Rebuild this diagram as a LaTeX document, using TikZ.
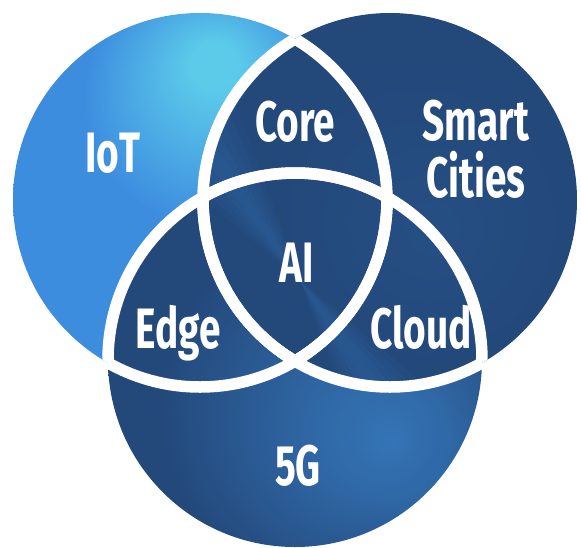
\documentclass[tikz,border=0pt]{standalone}
\usepackage{fontspec}
\setmainfont{Fira Sans}[FakeStretch=0.68]
\definecolor{cy}{HTML}{5CCBEA}
\definecolor{bl}{HTML}{3D8DDF}
\definecolor{nv}{HTML}{23487A}
\definecolor{nvl}{HTML}{3474B6}
\pgfdeclareradialshading{iotshade}{\pgfpoint{2bp}{19bp}}{color(0bp)=(cy); color(3bp)=(cy); color(17bp)=(bl); color(60bp)=(bl)}
\pgfdeclareradialshading{citshade}{\pgfpoint{6bp}{-4bp}}{color(0bp)=(nv!85!nvl); color(22bp)=(nv); color(60bp)=(nv)}
\pgfdeclareradialshading{fivshade}{\pgfpoint{13bp}{-11bp}}{color(0bp)=(nvl); color(8bp)=(nvl!75!nv); color(26bp)=(nv); color(60bp)=(nv)}
\tikzset{
  ring/.style={draw=white, line width=11.5pt},
  lab/.style={text=white, font=\fontsize{57}{57}\selectfont\bfseries, inner sep=0pt, anchor=base, align=center},
  streak/.style={fill=nvl, opacity=0.09}
}
\newcommand{\streaks}{%
  \foreach \w in {3,6,9,12,15}{%
    \fill[streak, shift={(cC)}] (0,0) -- (55-\w:450) -- (55+\w:450) -- cycle;
    \fill[streak, shift={(cC)}] (0,0) -- (235-\w:450) -- (235+\w:450) -- cycle;
  }}
\begin{document}
\begin{tikzpicture}[x=1pt,y=-1pt]
\useasboundingbox (0,0) rectangle (581,547);
\coordinate (cL) at (200,200);
\coordinate (cR) at (390,200);
\coordinate (cB) at (295,360);
\coordinate (cC) at (300,280);
\def\R{187}
% fills and brushed streaks
\shade[shading=iotshade] (cL) circle[radius=\R];
\shade[shading=fivshade] (cB) circle[radius=\R];
\begin{scope}
  \clip (cB) circle[radius=\R];
  \streaks
\end{scope}
\shade[shading=citshade] (cR) circle[radius=\R];
\begin{scope}
  \clip (cR) circle[radius=\R];
  \streaks
\end{scope}
% white outlines inside other circles
\begin{scope}\clip (cR) circle[radius=\R]; \draw[ring] (cL) circle[radius=\R]; \end{scope}
\begin{scope}\clip (cB) circle[radius=\R]; \draw[ring] (cL) circle[radius=\R]; \end{scope}
\begin{scope}\clip (cL) circle[radius=\R]; \draw[ring] (cR) circle[radius=\R]; \end{scope}
\begin{scope}\clip (cB) circle[radius=\R]; \draw[ring] (cR) circle[radius=\R]; \end{scope}
\begin{scope}\clip (cL) circle[radius=\R]; \draw[ring] (cB) circle[radius=\R]; \end{scope}
\begin{scope}\clip (cR) circle[radius=\R]; \draw[ring] (cB) circle[radius=\R]; \end{scope}
% labels
\node[lab] (iot) at (113,172) {IoT};
\node[lab] (core) at (295,141) {Core};
\node[lab] (smart) at (476,197) {Smart\\Cities};
\node[lab] (ai) at (297,282) {AI};
\node[lab] (edge) at (178,348) {Edge};
\node[lab] (cloud) at (421,348) {Cloud};
\node[lab] (fiveg) at (298,485) {5G};
\end{tikzpicture}
\end{document}
